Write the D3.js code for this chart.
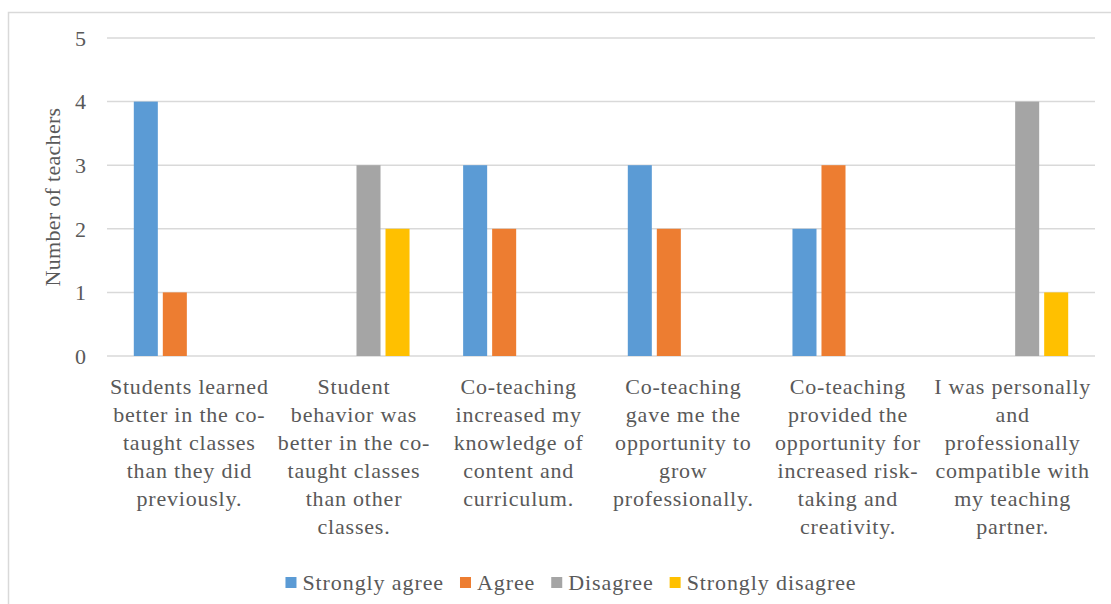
<!DOCTYPE html>
<html>
<head>
<meta charset="utf-8">
<script src="https://cdn.jsdelivr.net/npm/d3@7"></script>
<style>
  body { margin: 0; background: #fff; }
</style>
</head>
<body>
<svg id="chart" width="1111" height="604"></svg>
<script>
// category labels, already wrapped the way the source chart wraps them
const categories = [
    ['Students learned', 'better in the co-', 'taught classes', 'than they did', 'previously.'],
    ['Student', 'behavior was', 'better in the co-', 'taught classes', 'than other', 'classes.'],
    ['Co-teaching', 'increased my', 'knowledge of', 'content and', 'curriculum.'],
    ['Co-teaching', 'gave me the', 'opportunity to', 'grow', 'professionally.'],
    ['Co-teaching', 'provided the', 'opportunity for', 'increased risk-', 'taking and', 'creativity.'],
    ['I was personally', 'and', 'professionally', 'compatible with', 'my teaching', 'partner.']
]
const seriesNames = ['Strongly agree', 'Agree', 'Disagree', 'Strongly disagree']
const stronglyAgree = [4, 0, 3, 3, 2, 0]
const agree = [1, 0, 2, 2, 3, 0]
const disagree = [0, 3, 0, 0, 0, 4]
const stronglyDisagree = [0, 2, 0, 0, 0, 1]
const yTicks = [0, 1, 2, 3, 4, 5]
const colors = ['#5B9BD5', '#ED7D31', '#A5A5A5', '#FFC000']

const values = [stronglyAgree, agree, disagree, stronglyDisagree]
const font = '"Liberation Serif", "Times New Roman", serif'

const svg = d3.select('#chart')
    .attr('font-family', font)

// chart area border
svg.append('rect')
    .attr('x', 8.5).attr('y', 12.5)
    .attr('width', 1200).attr('height', 700)
    .attr('fill', 'none').attr('stroke', '#d9d9d9').attr('stroke-width', 1.5)

const plot = { left: 107, right: 1095, top: 38, bottom: 356 }

const y = d3.scaleLinear().domain([0, 5]).range([plot.bottom, plot.top])
const x0 = d3.scaleBand().domain(d3.range(categories.length)).range([plot.left, plot.right])
const groupPad = 26.8
const x1 = d3.scaleBand().domain(d3.range(seriesNames.length))
    .range([groupPad, x0.bandwidth() - groupPad]).paddingInner(0.172)

// gridlines
svg.append('g').selectAll('line')
    .data(yTicks)
    .join('line')
    .attr('x1', plot.left).attr('x2', plot.right)
    .attr('y1', d => y(d)).attr('y2', d => y(d))
    .attr('stroke', '#d9d9d9').attr('stroke-width', 1.5)

// y tick labels
svg.append('g').selectAll('text')
    .data(yTicks)
    .join('text')
    .attr('x', 86).attr('y', d => y(d))
    .attr('dy', '0.35em')
    .attr('text-anchor', 'end')
    .attr('fill', '#595959')
    .style('font-size', '22px')
    .text(d => d)

// y title
svg.append('text')
    .attr('transform', `translate(60,${(plot.top + plot.bottom) / 2}) rotate(-90)`)
    .attr('text-anchor', 'middle')
    .attr('fill', '#595959')
    .style('font-size', '22px')
    .style('letter-spacing', '0.3px')
    .text('Number of teachers')

// bars
const groups = svg.append('g').selectAll('g')
    .data(categories.map((c, i) => i))
    .join('g')
    .attr('transform', i => `translate(${x0(i)},0)`)

groups.selectAll('rect')
    .data(i => values.map((v, s) => ({ s, v: v[i] })).filter(d => d.v > 0))
    .join('rect')
    .attr('x', d => x1(d.s))
    .attr('width', x1.bandwidth())
    .attr('y', d => y(d.v))
    .attr('height', d => y(0) - y(d.v))
    .attr('fill', d => colors[d.s])

// category labels
groups.append('text')
    .attr('text-anchor', 'middle')
    .attr('fill', '#595959')
    .style('font-size', '22px')
    .style('letter-spacing', '0.8px')
    .selectAll('tspan')
    .data(i => categories[i])
    .join('tspan')
    .attr('x', x0.bandwidth() / 2)
    .attr('y', (d, k) => 394 + k * 28)
    .text(d => d)

// legend, laid out from measured text widths and centred
const legend = svg.append('g').attr('transform', 'translate(0,583)')
const items = legend.selectAll('g')
    .data(seriesNames)
    .join('g')
items.append('rect')
    .attr('x', 0).attr('y', -6)
    .attr('width', 11).attr('height', 11)
    .attr('fill', (d, i) => colors[i])
items.append('text')
    .attr('x', 17).attr('y', 0)
    .attr('dy', '0.33em')
    .attr('fill', '#595959')
    .style('font-size', '22px')
    .style('letter-spacing', '0.9px')
    .text(d => d)
const itemGap = 16
let cx = 0
const offsets = []
items.each(function () {
    offsets.push(cx)
    cx += 17 + d3.select(this).select('text').node().getComputedTextLength() + itemGap
})
const startX = 571 - (cx - itemGap) / 2
items.attr('transform', (d, i) => `translate(${startX + offsets[i]},0)`)
</script>
</body>
</html>
